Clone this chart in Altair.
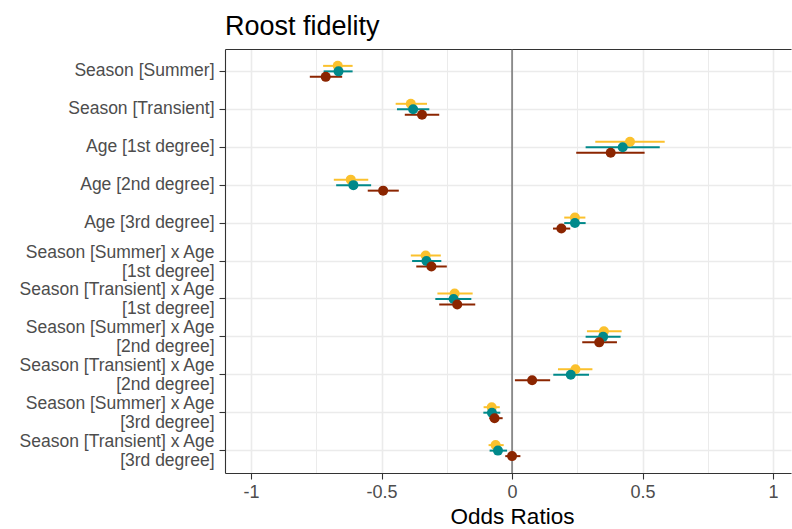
import altair as alt
import pandas as pd

terms = [
    "Season [Summer]",
    "Season [Transient]",
    "Age [1st degree]",
    "Age [2nd degree]",
    "Age [3rd degree]",
    "Season [Summer] x Age\n[1st degree]",
    "Season [Transient] x Age\n[1st degree]",
    "Season [Summer] x Age\n[2nd degree]",
    "Season [Transient] x Age\n[2nd degree]",
    "Season [Summer] x Age\n[3rd degree]",
    "Season [Transient] x Age\n[3rd degree]",
]
series = ["Model 1", "Model 2", "Model 3"]
colors = ["#FBC12D", "#00898A", "#8B2500"]

est_1 = [-0.668, -0.388, 0.452, -0.618, 0.241, -0.331, -0.220, 0.352, 0.243, -0.078, -0.063]
lo_1 = [-0.724, -0.446, 0.319, -0.683, 0.200, -0.388, -0.286, 0.287, 0.176, -0.109, -0.090]
hi_1 = [-0.611, -0.326, 0.585, -0.551, 0.281, -0.273, -0.151, 0.420, 0.308, -0.047, -0.032]

est_2 = [-0.665, -0.379, 0.424, -0.608, 0.241, -0.328, -0.224, 0.349, 0.225, -0.077, -0.054]
lo_2 = [-0.722, -0.441, 0.282, -0.674, 0.200, -0.383, -0.294, 0.282, 0.158, -0.110, -0.086]
hi_2 = [-0.611, -0.317, 0.566, -0.540, 0.282, -0.271, -0.156, 0.416, 0.295, -0.045, -0.019]

est_3 = [-0.714, -0.345, 0.378, -0.494, 0.189, -0.309, -0.210, 0.334, 0.077, -0.067, 0.000]
lo_3 = [-0.775, -0.411, 0.246, -0.553, 0.157, -0.367, -0.279, 0.269, 0.011, -0.087, -0.026]
hi_3 = [-0.651, -0.279, 0.508, -0.434, 0.223, -0.250, -0.141, 0.402, 0.146, -0.036, 0.032]

x_ticks = [-1, -0.75, -0.5, -0.25, 0, 0.25, 0.5, 0.75, 1]

rows = []
for s, est, lo, hi in zip(series, [est_1, est_2, est_3], [lo_1, lo_2, lo_3], [hi_1, hi_2, hi_3]):
    for t, e, l, h in zip(terms, est, lo, hi):
        rows.append({"term": t, "series": s, "est": e, "lo": l, "hi": h})
df = pd.DataFrame(rows)

FONT = "Liberation Sans"
major = "abs(datum.value * 2 - round(datum.value * 2)) < 0.001"

xscale = alt.Scale(domain=[-1.1, 1.069], nice=False, zero=False)
yaxis = alt.Axis(
    title=None,
    labelExpr="split(datum.label, '\\n')",
    labelFontSize=17.5,
    labelColor="#4D4D4D",
    labelLineHeight=19,
    labelOffset={"condition": {"test": "indexof(datum.label, '\\n') >= 0", "value": -8.5}, "value": 0},
    labelPadding=5,
    labelLimit=400,
    tickSize=6,
    tickColor="#333333",
    tickWidth=1.1,
    domainColor="#333333",
    domainWidth=1.1,
    grid=True,
    gridColor="#EBEBEB",
    gridWidth=1.6,
    bandPosition=0.5,
)
y_enc = alt.Y("term:N", sort=terms,
              scale=alt.Scale(paddingInner=0, paddingOuter=0.09), axis=yaxis)
yoff = alt.YOffset("dodge:Q", scale=alt.Scale(domain=[-1, 1], range=[13.46, 24.46]))
color = alt.Color("series:N", scale=alt.Scale(domain=series, range=colors), legend=None)

base = alt.Chart(df).transform_calculate(
    dodge="indexof(" + str(series) + ", datum.series) - 1"
)

bottom_axis = alt.Axis(
    title="Odds Ratios",
    titleFontSize=22.5,
    titleFontWeight="normal",
    titleColor="#000000",
    titleX=287,
    titleY=32,
    titleBaseline="top",
    values=x_ticks,
    labelExpr=major + " ? '' + datum.value : ''",
    labelFontSize=18,
    labelColor="#4D4D4D",
    labelPadding=4,
    tickSize=6,
    tickColor="#333333",
    tickWidth=1.1,
    tickOpacity={"condition": {"test": major, "value": 1}, "value": 0},
    domainColor="#333333",
    domainWidth=1.1,
    grid=True,
    gridColor="#EBEBEB",
    gridWidth={"condition": {"test": major, "value": 1.6}, "value": 1.0},
)
top_axis = alt.Axis(orient="top", title=None, labels=False, ticks=False, grid=False,
                    domainColor="#333333", domainWidth=1.1)

zero = alt.Chart(pd.DataFrame({"v": [0]})).mark_rule(color="#555555", strokeWidth=1.2).encode(
    x=alt.X("v:Q", scale=xscale, axis=None)
)

bars = base.mark_rule(strokeWidth=2).encode(
    x=alt.X("lo:Q", scale=xscale, axis=bottom_axis),
    x2="hi:Q",
    y=y_enc,
    yOffset=yoff,
    color=color,
)
points = base.mark_circle(size=100, opacity=1).encode(
    x=alt.X("est:Q", scale=xscale, axis=top_axis),
    y=y_enc,
    yOffset=yoff,
    color=color,
)

chart = alt.layer(zero, bars, points).resolve_axis(x="independent").properties(
    width=566,
    height=424,
    autosize=alt.AutoSizeParams(type="none"),
    padding={"left": 225, "top": 49, "right": 1, "bottom": 56},
    title=alt.Title("Roost fidelity", anchor="start", frame="group", fontSize=27,
                    fontWeight="normal", color="#000000", font=FONT, offset=7),
).configure(font=FONT, background="white").configure_view(stroke=None)

chart.save("out.html", embed_options={"renderer": "svg", "actions": False})
